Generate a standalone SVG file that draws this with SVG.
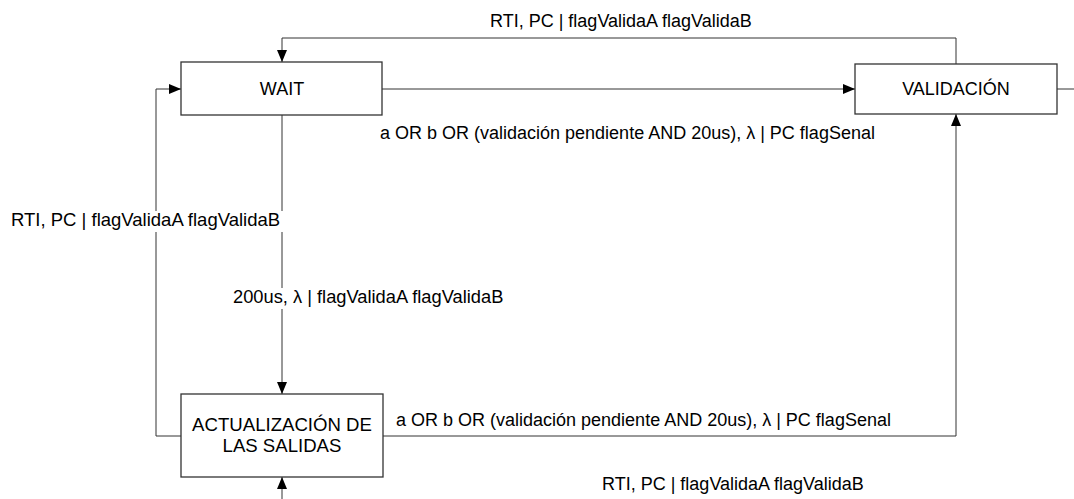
<svg xmlns="http://www.w3.org/2000/svg" width="1074" height="499" viewBox="0 0 1074 499">
<defs>
<marker id="ah" viewBox="0 0 12 10" refX="12" refY="5" markerWidth="12" markerHeight="10" markerUnits="userSpaceOnUse" orient="auto">
<path d="M0,0 L12,5 L0,10 Z" fill="#000"/>
</marker>
<style>
.n{fill:#fff;stroke:#333;stroke-width:1.3}
.t{font-family:"Liberation Sans",Arial,sans-serif;font-size:18px;fill:#000}
.c{text-anchor:middle}
.e{fill:none;stroke:#333;stroke-width:1}
.a{marker-end:url(#ah)}
.bg{fill:#fff}
</style>
</defs>
<rect width="1074" height="499" fill="#fff"/>
<g id="connectors">
<path class="e a" d="M956,64 V38 H282 V62"/>
<path class="e a" d="M382,89 H855"/>
<path class="e" d="M1057,89 H1074"/>
<path class="e a" d="M282,115 V394"/>
<path class="e a" d="M181,436 H156 V89 H181"/>
<path class="e a" d="M383,436 H956 V114"/>
<path class="e a" d="M282,499 V477"/>
</g>
<g id="labels">
<text class="t" x="490" y="27">RTI, PC | flagValidaA flagValidaB</text>
<text class="t" x="380" y="139">a OR b OR (validación pendiente AND 20us), λ | PC flagSenal</text>
<rect class="bg" x="9" y="211" width="280" height="21"/>
<text class="t" x="11" y="226" style="font-size:18.5px">RTI, PC | flagValidaA flagValidaB</text>
<rect class="bg" x="231" y="288" width="262" height="21"/>
<text class="t" x="233" y="303" style="font-size:18.3px">200us, λ | flagValidaA flagValidaB</text>
<text class="t" x="396" y="426">a OR b OR (validación pendiente AND 20us), λ | PC flagSenal</text>
<text class="t" x="602" y="490">RTI, PC | flagValidaA flagValidaB</text>
</g>
<g id="wait">
<rect class="n" x="181" y="62" width="201" height="53"/>
<text class="t c" x="282" y="95">WAIT</text>
</g>
<g id="validacion">
<rect class="n" x="855" y="64" width="202" height="50"/>
<text class="t c" x="956" y="95">VALIDACIÓN</text>
</g>
<g id="actualizacion">
<rect class="n" x="181" y="394" width="202" height="83"/>
<text class="t c" x="282" y="431" style="font-size:18.6px">ACTUALIZACIÓN DE</text>
<text class="t c" x="282" y="452" style="font-size:18.6px">LAS SALIDAS</text>
</g>
</svg>
